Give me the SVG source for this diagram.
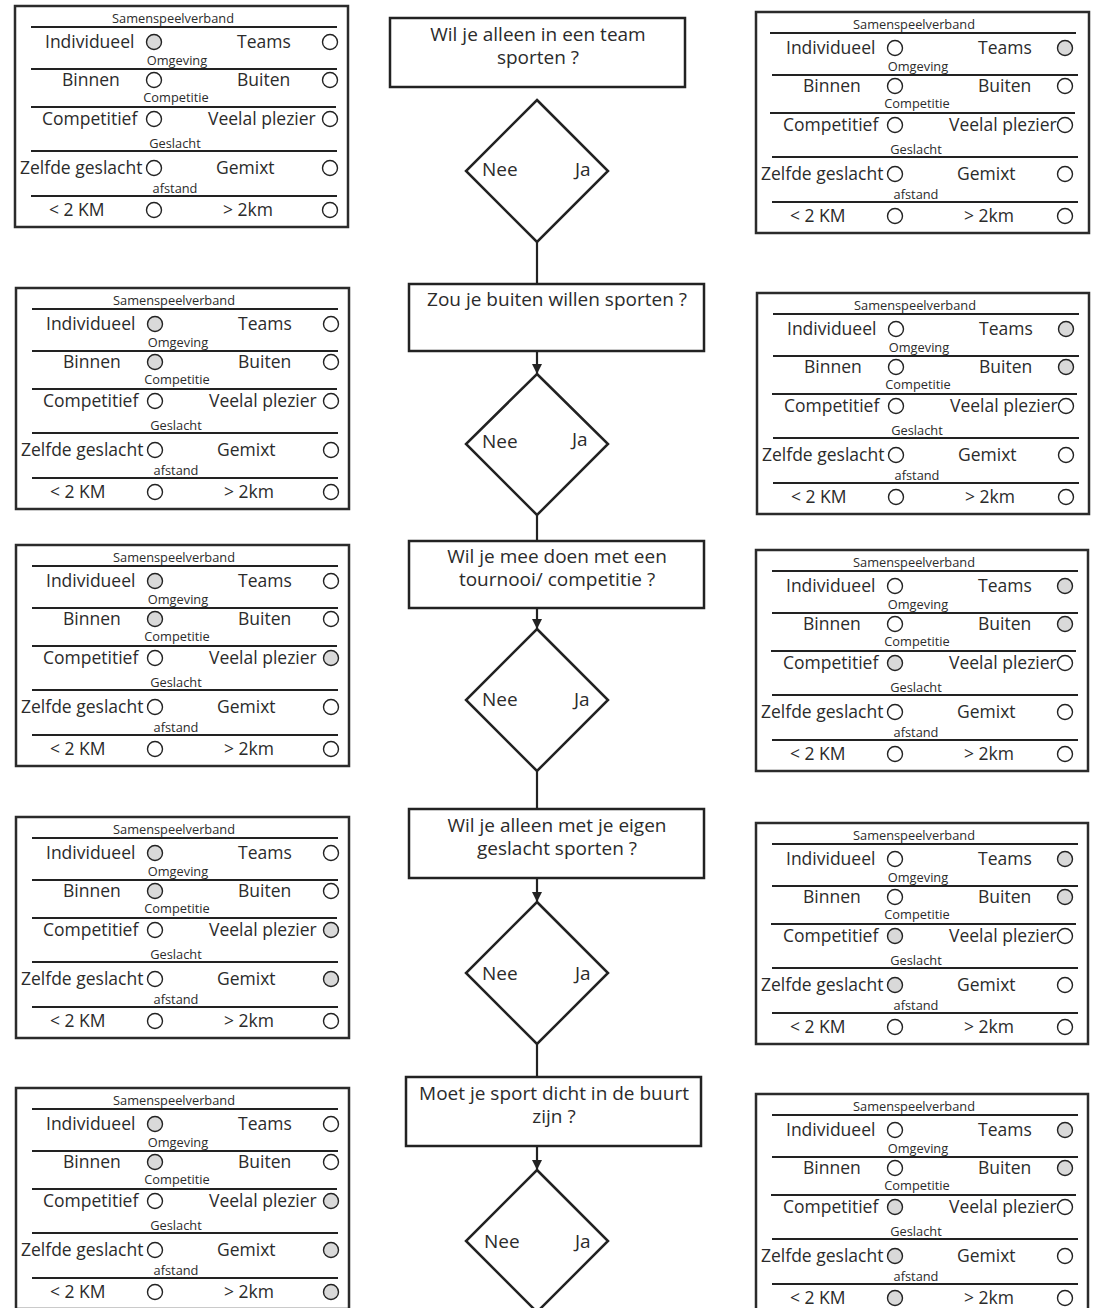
<svg xmlns="http://www.w3.org/2000/svg" width="1095" height="1308" viewBox="0 0 1095 1308">
<style>
.pb{fill:#fff;stroke:#2b2b2b;stroke-width:2.5}
.sep{stroke:#222;stroke-width:2}
.t{font-family:"Open Sans","Noto Sans",sans-serif;font-size:17.5px;fill:#2b2b2b}
.s{font-family:"Open Sans","Noto Sans",sans-serif;font-size:12.8px;fill:#2b2b2b;text-anchor:middle}
.c{fill:#fff;stroke:#222;stroke-width:1.4}
.f{fill:#d9d9d9}
.box{fill:#fff;stroke:#222;stroke-width:2.5}
.q{font-family:"Open Sans","Noto Sans",sans-serif;font-size:19px;fill:#2b2b2b;text-anchor:middle}
.lb{font-family:"Open Sans","Noto Sans",sans-serif;font-size:19px;fill:#2b2b2b}
.con{stroke:#222;stroke-width:2.2;fill:none}
</style>
<defs>
<marker id="ah" markerUnits="userSpaceOnUse" markerWidth="10" markerHeight="11" refX="10" refY="5" orient="auto">
<path d="M0,0 L10,5 L0,10 z" fill="#222"/>
</marker>
</defs>

<g id="connectors">
<line class="con" x1="537" y1="242" x2="537" y2="284"/>
<line class="con" x1="537" y1="351" x2="537" y2="374" marker-end="url(#ah)"/>
<line class="con" x1="537" y1="515" x2="537" y2="541"/>
<line class="con" x1="537" y1="608" x2="537" y2="629" marker-end="url(#ah)"/>
<line class="con" x1="537" y1="771" x2="537" y2="809"/>
<line class="con" x1="537" y1="878" x2="537" y2="902" marker-end="url(#ah)"/>
<line class="con" x1="537" y1="1044" x2="537" y2="1077"/>
<line class="con" x1="537" y1="1146" x2="537" y2="1170" marker-end="url(#ah)"/>
</g>

<g id="q1">
<rect class="box" x="390" y="18" width="295" height="69"/>
<text class="q" x="538" y="41">Wil je alleen in een team</text>
<text class="q" x="538" y="64">sporten ?</text>
</g>
<g id="d1">
<polygon class="box" points="537,100 608,171 537,242 466,171"/>
<text class="lb" x="482" y="176">Nee</text>
<text class="lb" x="575" y="176">Ja</text>
</g>
<g id="q2">
<rect class="box" x="409" y="284" width="295" height="67"/>
<text class="q" x="557" y="306">Zou je buiten willen sporten ?</text>
</g>
<g id="d2">
<polygon class="box" points="537,374 608,444 537,515 466,444"/>
<text class="lb" x="482" y="448">Nee</text>
<text class="lb" x="572" y="446">Ja</text>
</g>
<g id="q3">
<rect class="box" x="409" y="541" width="295" height="67"/>
<text class="q" x="557" y="563">Wil je mee doen met een</text>
<text class="q" x="557" y="586">tournooi/ competitie ?</text>
</g>
<g id="d3">
<polygon class="box" points="537,629 608,700 537,771 466,700"/>
<text class="lb" x="482" y="706">Nee</text>
<text class="lb" x="574" y="706">Ja</text>
</g>
<g id="q4">
<rect class="box" x="409" y="809" width="295" height="69"/>
<text class="q" x="557" y="832">Wil je alleen met je eigen</text>
<text class="q" x="557" y="855">geslacht sporten ?</text>
</g>
<g id="d4">
<polygon class="box" points="537,902 608,973 537,1044 466,973"/>
<text class="lb" x="482" y="980">Nee</text>
<text class="lb" x="575" y="980">Ja</text>
</g>
<g id="q5">
<rect class="box" x="406" y="1077" width="295" height="69"/>
<text class="q" x="554" y="1100">Moet je sport dicht in de buurt</text>
<text class="q" x="554" y="1123">zijn ?</text>
</g>
<g id="d5">
<polygon class="box" points="537,1170 608,1241 537,1312 466,1241"/>
<text class="lb" x="484" y="1248">Nee</text>
<text class="lb" x="575" y="1248">Ja</text>
</g>

<!-- LEFT PANELS -->
<g id="panel-L1" transform="translate(15,6)">
<rect class="pb" x="0" y="0" width="333" height="221"/>
<text class="s" x="158" y="17">Samenspeelverband</text>
<line class="sep" x1="16" y1="21" x2="322" y2="21"/>
<text class="t" x="30" y="42">Individueel</text><circle class="c f" cx="139" cy="36" r="7.5"/>
<text class="t" x="222" y="42">Teams</text><circle class="c" cx="315" cy="36" r="7.5"/>
<text class="s" x="162" y="59">Omgeving</text>
<line class="sep" x1="16" y1="63" x2="322" y2="63"/>
<text class="t" x="47" y="80">Binnen</text><circle class="c" cx="139" cy="74" r="7.5"/>
<text class="t" x="222" y="80">Buiten</text><circle class="c" cx="315" cy="74" r="7.5"/>
<text class="s" x="161" y="96">Competitie</text>
<line class="sep" x1="16" y1="101" x2="321" y2="101"/>
<text class="t" x="27" y="119">Competitief</text><circle class="c" cx="139" cy="113" r="7.5"/>
<text class="t" x="193" y="119">Veelal plezier</text><circle class="c" cx="315" cy="113" r="7.5"/>
<text class="s" x="160" y="142">Geslacht</text>
<line class="sep" x1="16" y1="145" x2="322" y2="145"/>
<text class="t" x="5" y="168">Zelfde geslacht</text><circle class="c" cx="139" cy="162" r="7.5"/>
<text class="t" x="201" y="168">Gemixt</text><circle class="c" cx="315" cy="162" r="7.5"/>
<text class="s" x="160" y="187">afstand</text>
<line class="sep" x1="16" y1="190" x2="322" y2="190"/>
<text class="t" x="34" y="210">&lt; 2 KM</text><circle class="c" cx="139" cy="204" r="7.5"/>
<text class="t" x="208" y="210">&gt; 2km</text><circle class="c" cx="315" cy="204" r="7.5"/>
</g>

<g id="panel-L2" transform="translate(16,288)">
<rect class="pb" x="0" y="0" width="333" height="221"/>
<text class="s" x="158" y="17">Samenspeelverband</text>
<line class="sep" x1="16" y1="21" x2="322" y2="21"/>
<text class="t" x="30" y="42">Individueel</text><circle class="c f" cx="139" cy="36" r="7.5"/>
<text class="t" x="222" y="42">Teams</text><circle class="c" cx="315" cy="36" r="7.5"/>
<text class="s" x="162" y="59">Omgeving</text>
<line class="sep" x1="16" y1="63" x2="322" y2="63"/>
<text class="t" x="47" y="80">Binnen</text><circle class="c f" cx="139" cy="74" r="7.5"/>
<text class="t" x="222" y="80">Buiten</text><circle class="c" cx="315" cy="74" r="7.5"/>
<text class="s" x="161" y="96">Competitie</text>
<line class="sep" x1="16" y1="101" x2="321" y2="101"/>
<text class="t" x="27" y="119">Competitief</text><circle class="c" cx="139" cy="113" r="7.5"/>
<text class="t" x="193" y="119">Veelal plezier</text><circle class="c" cx="315" cy="113" r="7.5"/>
<text class="s" x="160" y="142">Geslacht</text>
<line class="sep" x1="16" y1="145" x2="322" y2="145"/>
<text class="t" x="5" y="168">Zelfde geslacht</text><circle class="c" cx="139" cy="162" r="7.5"/>
<text class="t" x="201" y="168">Gemixt</text><circle class="c" cx="315" cy="162" r="7.5"/>
<text class="s" x="160" y="187">afstand</text>
<line class="sep" x1="16" y1="190" x2="322" y2="190"/>
<text class="t" x="34" y="210">&lt; 2 KM</text><circle class="c" cx="139" cy="204" r="7.5"/>
<text class="t" x="208" y="210">&gt; 2km</text><circle class="c" cx="315" cy="204" r="7.5"/>
</g>

<g id="panel-L3" transform="translate(16,545)">
<rect class="pb" x="0" y="0" width="333" height="221"/>
<text class="s" x="158" y="17">Samenspeelverband</text>
<line class="sep" x1="16" y1="21" x2="322" y2="21"/>
<text class="t" x="30" y="42">Individueel</text><circle class="c f" cx="139" cy="36" r="7.5"/>
<text class="t" x="222" y="42">Teams</text><circle class="c" cx="315" cy="36" r="7.5"/>
<text class="s" x="162" y="59">Omgeving</text>
<line class="sep" x1="16" y1="63" x2="322" y2="63"/>
<text class="t" x="47" y="80">Binnen</text><circle class="c f" cx="139" cy="74" r="7.5"/>
<text class="t" x="222" y="80">Buiten</text><circle class="c" cx="315" cy="74" r="7.5"/>
<text class="s" x="161" y="96">Competitie</text>
<line class="sep" x1="16" y1="101" x2="321" y2="101"/>
<text class="t" x="27" y="119">Competitief</text><circle class="c" cx="139" cy="113" r="7.5"/>
<text class="t" x="193" y="119">Veelal plezier</text><circle class="c f" cx="315" cy="113" r="7.5"/>
<text class="s" x="160" y="142">Geslacht</text>
<line class="sep" x1="16" y1="145" x2="322" y2="145"/>
<text class="t" x="5" y="168">Zelfde geslacht</text><circle class="c" cx="139" cy="162" r="7.5"/>
<text class="t" x="201" y="168">Gemixt</text><circle class="c" cx="315" cy="162" r="7.5"/>
<text class="s" x="160" y="187">afstand</text>
<line class="sep" x1="16" y1="190" x2="322" y2="190"/>
<text class="t" x="34" y="210">&lt; 2 KM</text><circle class="c" cx="139" cy="204" r="7.5"/>
<text class="t" x="208" y="210">&gt; 2km</text><circle class="c" cx="315" cy="204" r="7.5"/>
</g>

<g id="panel-L4" transform="translate(16,817)">
<rect class="pb" x="0" y="0" width="333" height="221"/>
<text class="s" x="158" y="17">Samenspeelverband</text>
<line class="sep" x1="16" y1="21" x2="322" y2="21"/>
<text class="t" x="30" y="42">Individueel</text><circle class="c f" cx="139" cy="36" r="7.5"/>
<text class="t" x="222" y="42">Teams</text><circle class="c" cx="315" cy="36" r="7.5"/>
<text class="s" x="162" y="59">Omgeving</text>
<line class="sep" x1="16" y1="63" x2="322" y2="63"/>
<text class="t" x="47" y="80">Binnen</text><circle class="c f" cx="139" cy="74" r="7.5"/>
<text class="t" x="222" y="80">Buiten</text><circle class="c" cx="315" cy="74" r="7.5"/>
<text class="s" x="161" y="96">Competitie</text>
<line class="sep" x1="16" y1="101" x2="321" y2="101"/>
<text class="t" x="27" y="119">Competitief</text><circle class="c" cx="139" cy="113" r="7.5"/>
<text class="t" x="193" y="119">Veelal plezier</text><circle class="c f" cx="315" cy="113" r="7.5"/>
<text class="s" x="160" y="142">Geslacht</text>
<line class="sep" x1="16" y1="145" x2="322" y2="145"/>
<text class="t" x="5" y="168">Zelfde geslacht</text><circle class="c" cx="139" cy="162" r="7.5"/>
<text class="t" x="201" y="168">Gemixt</text><circle class="c f" cx="315" cy="162" r="7.5"/>
<text class="s" x="160" y="187">afstand</text>
<line class="sep" x1="16" y1="190" x2="322" y2="190"/>
<text class="t" x="34" y="210">&lt; 2 KM</text><circle class="c" cx="139" cy="204" r="7.5"/>
<text class="t" x="208" y="210">&gt; 2km</text><circle class="c" cx="315" cy="204" r="7.5"/>
</g>

<g id="panel-L5" transform="translate(16,1088)">
<rect class="pb" x="0" y="0" width="333" height="221"/>
<text class="s" x="158" y="17">Samenspeelverband</text>
<line class="sep" x1="16" y1="21" x2="322" y2="21"/>
<text class="t" x="30" y="42">Individueel</text><circle class="c f" cx="139" cy="36" r="7.5"/>
<text class="t" x="222" y="42">Teams</text><circle class="c" cx="315" cy="36" r="7.5"/>
<text class="s" x="162" y="59">Omgeving</text>
<line class="sep" x1="16" y1="63" x2="322" y2="63"/>
<text class="t" x="47" y="80">Binnen</text><circle class="c f" cx="139" cy="74" r="7.5"/>
<text class="t" x="222" y="80">Buiten</text><circle class="c" cx="315" cy="74" r="7.5"/>
<text class="s" x="161" y="96">Competitie</text>
<line class="sep" x1="16" y1="101" x2="321" y2="101"/>
<text class="t" x="27" y="119">Competitief</text><circle class="c" cx="139" cy="113" r="7.5"/>
<text class="t" x="193" y="119">Veelal plezier</text><circle class="c f" cx="315" cy="113" r="7.5"/>
<text class="s" x="160" y="142">Geslacht</text>
<line class="sep" x1="16" y1="145" x2="322" y2="145"/>
<text class="t" x="5" y="168">Zelfde geslacht</text><circle class="c" cx="139" cy="162" r="7.5"/>
<text class="t" x="201" y="168">Gemixt</text><circle class="c f" cx="315" cy="162" r="7.5"/>
<text class="s" x="160" y="187">afstand</text>
<line class="sep" x1="16" y1="190" x2="322" y2="190"/>
<text class="t" x="34" y="210">&lt; 2 KM</text><circle class="c" cx="139" cy="204" r="7.5"/>
<text class="t" x="208" y="210">&gt; 2km</text><circle class="c f" cx="315" cy="204" r="7.5"/>
</g>

<!-- RIGHT PANELS -->
<g id="panel-R1" transform="translate(756,12)">
<rect class="pb" x="0" y="0" width="333" height="221"/>
<text class="s" x="158" y="17">Samenspeelverband</text>
<line class="sep" x1="14" y1="21" x2="320" y2="21"/>
<text class="t" x="30" y="42">Individueel</text><circle class="c" cx="139" cy="36" r="7.5"/>
<text class="t" x="222" y="42">Teams</text><circle class="c f" cx="309" cy="36" r="7.5"/>
<text class="s" x="162" y="59">Omgeving</text>
<line class="sep" x1="16" y1="63" x2="322" y2="63"/>
<text class="t" x="47" y="80">Binnen</text><circle class="c" cx="139" cy="74" r="7.5"/>
<text class="t" x="222" y="80">Buiten</text><circle class="c" cx="309" cy="74" r="7.5"/>
<text class="s" x="161" y="96">Competitie</text>
<line class="sep" x1="14" y1="101" x2="319" y2="101"/>
<text class="t" x="27" y="119">Competitief</text><circle class="c" cx="139" cy="113" r="7.5"/>
<text class="t" x="193" y="119">Veelal plezier</text><circle class="c" cx="309" cy="113" r="7.5"/>
<text class="s" x="160" y="142">Geslacht</text>
<line class="sep" x1="16" y1="145" x2="322" y2="145"/>
<text class="t" x="5" y="168">Zelfde geslacht</text><circle class="c" cx="139" cy="162" r="7.5"/>
<text class="t" x="201" y="168">Gemixt</text><circle class="c" cx="309" cy="162" r="7.5"/>
<text class="s" x="160" y="187">afstand</text>
<line class="sep" x1="16" y1="190" x2="322" y2="190"/>
<text class="t" x="34" y="210">&lt; 2 KM</text><circle class="c" cx="139" cy="204" r="7.5"/>
<text class="t" x="208" y="210">&gt; 2km</text><circle class="c" cx="309" cy="204" r="7.5"/>
</g>

<g id="panel-R2" transform="translate(757,293)">
<rect class="pb" x="0" y="0" width="332" height="221"/>
<text class="s" x="158" y="17">Samenspeelverband</text>
<line class="sep" x1="16" y1="21" x2="322" y2="21"/>
<text class="t" x="30" y="42">Individueel</text><circle class="c" cx="139" cy="36" r="7.5"/>
<text class="t" x="222" y="42">Teams</text><circle class="c f" cx="309" cy="36" r="7.5"/>
<text class="s" x="162" y="59">Omgeving</text>
<line class="sep" x1="16" y1="63" x2="322" y2="63"/>
<text class="t" x="47" y="80">Binnen</text><circle class="c" cx="139" cy="74" r="7.5"/>
<text class="t" x="222" y="80">Buiten</text><circle class="c f" cx="309" cy="74" r="7.5"/>
<text class="s" x="161" y="96">Competitie</text>
<line class="sep" x1="15" y1="101" x2="320" y2="101"/>
<text class="t" x="27" y="119">Competitief</text><circle class="c" cx="139" cy="113" r="7.5"/>
<text class="t" x="193" y="119">Veelal plezier</text><circle class="c" cx="309" cy="113" r="7.5"/>
<text class="s" x="160" y="142">Geslacht</text>
<line class="sep" x1="16" y1="145" x2="322" y2="145"/>
<text class="t" x="5" y="168">Zelfde geslacht</text><circle class="c" cx="139" cy="162" r="7.5"/>
<text class="t" x="201" y="168">Gemixt</text><circle class="c" cx="309" cy="162" r="7.5"/>
<text class="s" x="160" y="187">afstand</text>
<line class="sep" x1="16" y1="190" x2="322" y2="190"/>
<text class="t" x="34" y="210">&lt; 2 KM</text><circle class="c" cx="139" cy="204" r="7.5"/>
<text class="t" x="208" y="210">&gt; 2km</text><circle class="c" cx="309" cy="204" r="7.5"/>
</g>

<g id="panel-R3" transform="translate(756,550)">
<rect class="pb" x="0" y="0" width="332" height="221"/>
<text class="s" x="158" y="17">Samenspeelverband</text>
<line class="sep" x1="16" y1="21" x2="322" y2="21"/>
<text class="t" x="30" y="42">Individueel</text><circle class="c" cx="139" cy="36" r="7.5"/>
<text class="t" x="222" y="42">Teams</text><circle class="c f" cx="309" cy="36" r="7.5"/>
<text class="s" x="162" y="59">Omgeving</text>
<line class="sep" x1="16" y1="63" x2="322" y2="63"/>
<text class="t" x="47" y="80">Binnen</text><circle class="c" cx="139" cy="74" r="7.5"/>
<text class="t" x="222" y="80">Buiten</text><circle class="c f" cx="309" cy="74" r="7.5"/>
<text class="s" x="161" y="96">Competitie</text>
<line class="sep" x1="15" y1="101" x2="320" y2="101"/>
<text class="t" x="27" y="119">Competitief</text><circle class="c f" cx="139" cy="113" r="7.5"/>
<text class="t" x="193" y="119">Veelal plezier</text><circle class="c" cx="309" cy="113" r="7.5"/>
<text class="s" x="160" y="142">Geslacht</text>
<line class="sep" x1="16" y1="145" x2="322" y2="145"/>
<text class="t" x="5" y="168">Zelfde geslacht</text><circle class="c" cx="139" cy="162" r="7.5"/>
<text class="t" x="201" y="168">Gemixt</text><circle class="c" cx="309" cy="162" r="7.5"/>
<text class="s" x="160" y="187">afstand</text>
<line class="sep" x1="16" y1="190" x2="322" y2="190"/>
<text class="t" x="34" y="210">&lt; 2 KM</text><circle class="c" cx="139" cy="204" r="7.5"/>
<text class="t" x="208" y="210">&gt; 2km</text><circle class="c" cx="309" cy="204" r="7.5"/>
</g>

<g id="panel-R4" transform="translate(756,823)">
<rect class="pb" x="0" y="0" width="332" height="221"/>
<text class="s" x="158" y="17">Samenspeelverband</text>
<line class="sep" x1="16" y1="21" x2="322" y2="21"/>
<text class="t" x="30" y="42">Individueel</text><circle class="c" cx="139" cy="36" r="7.5"/>
<text class="t" x="222" y="42">Teams</text><circle class="c f" cx="309" cy="36" r="7.5"/>
<text class="s" x="162" y="59">Omgeving</text>
<line class="sep" x1="16" y1="63" x2="322" y2="63"/>
<text class="t" x="47" y="80">Binnen</text><circle class="c" cx="139" cy="74" r="7.5"/>
<text class="t" x="222" y="80">Buiten</text><circle class="c f" cx="309" cy="74" r="7.5"/>
<text class="s" x="161" y="96">Competitie</text>
<line class="sep" x1="15" y1="101" x2="320" y2="101"/>
<text class="t" x="27" y="119">Competitief</text><circle class="c f" cx="139" cy="113" r="7.5"/>
<text class="t" x="193" y="119">Veelal plezier</text><circle class="c" cx="309" cy="113" r="7.5"/>
<text class="s" x="160" y="142">Geslacht</text>
<line class="sep" x1="16" y1="145" x2="322" y2="145"/>
<text class="t" x="5" y="168">Zelfde geslacht</text><circle class="c f" cx="139" cy="162" r="7.5"/>
<text class="t" x="201" y="168">Gemixt</text><circle class="c" cx="309" cy="162" r="7.5"/>
<text class="s" x="160" y="187">afstand</text>
<line class="sep" x1="16" y1="190" x2="322" y2="190"/>
<text class="t" x="34" y="210">&lt; 2 KM</text><circle class="c" cx="139" cy="204" r="7.5"/>
<text class="t" x="208" y="210">&gt; 2km</text><circle class="c" cx="309" cy="204" r="7.5"/>
</g>

<g id="panel-R5" transform="translate(756,1094)">
<rect class="pb" x="0" y="0" width="332" height="221"/>
<text class="s" x="158" y="17">Samenspeelverband</text>
<line class="sep" x1="16" y1="21" x2="322" y2="21"/>
<text class="t" x="30" y="42">Individueel</text><circle class="c" cx="139" cy="36" r="7.5"/>
<text class="t" x="222" y="42">Teams</text><circle class="c f" cx="309" cy="36" r="7.5"/>
<text class="s" x="162" y="59">Omgeving</text>
<line class="sep" x1="16" y1="63" x2="322" y2="63"/>
<text class="t" x="47" y="80">Binnen</text><circle class="c" cx="139" cy="74" r="7.5"/>
<text class="t" x="222" y="80">Buiten</text><circle class="c f" cx="309" cy="74" r="7.5"/>
<text class="s" x="161" y="96">Competitie</text>
<line class="sep" x1="15" y1="101" x2="320" y2="101"/>
<text class="t" x="27" y="119">Competitief</text><circle class="c f" cx="139" cy="113" r="7.5"/>
<text class="t" x="193" y="119">Veelal plezier</text><circle class="c" cx="309" cy="113" r="7.5"/>
<text class="s" x="160" y="142">Geslacht</text>
<line class="sep" x1="16" y1="145" x2="322" y2="145"/>
<text class="t" x="5" y="168">Zelfde geslacht</text><circle class="c f" cx="139" cy="162" r="7.5"/>
<text class="t" x="201" y="168">Gemixt</text><circle class="c" cx="309" cy="162" r="7.5"/>
<text class="s" x="160" y="187">afstand</text>
<line class="sep" x1="16" y1="190" x2="322" y2="190"/>
<text class="t" x="34" y="210">&lt; 2 KM</text><circle class="c f" cx="139" cy="204" r="7.5"/>
<text class="t" x="208" y="210">&gt; 2km</text><circle class="c" cx="309" cy="204" r="7.5"/>
</g>
</svg>
